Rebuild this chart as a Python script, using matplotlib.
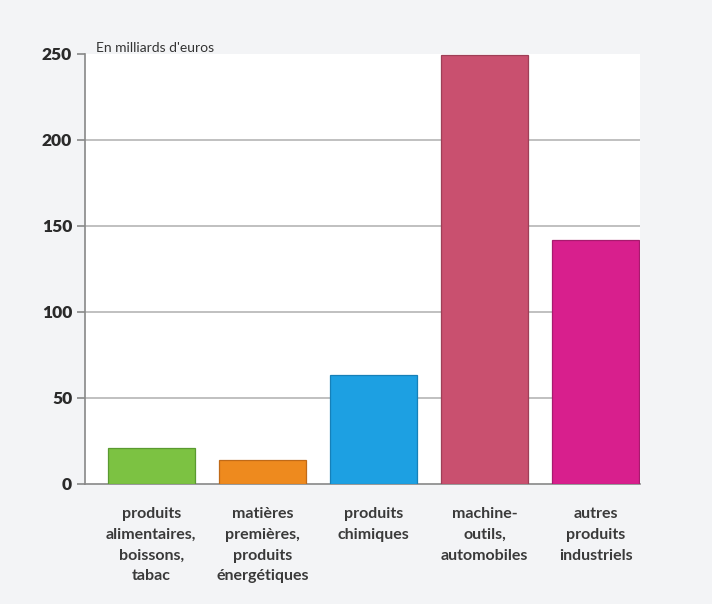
import matplotlib
matplotlib.use("Agg")
import matplotlib.pyplot as plt

# data
categories = ["produits\nalimentaires,\nboissons,\ntabac",
              "matières\npremières,\nproduits\nénergétiques",
              "produits\nchimiques",
              "machine-\noutils,\nautomobiles",
              "autres\nproduits\nindustriels"]
values = [21, 14, 63, 249, 142]
colors = ["#7cc242", "#ee8a1e", "#1da0e2", "#c9506f", "#d81f8d"]
edges = ["#5a9a30", "#c06a18", "#1680b8", "#9e3f57", "#a81a6e"]
yticks = [0, 50, 100, 150, 200, 250]

plt.rcParams['font.family'] = ['Lato', 'DejaVu Sans']

fig = plt.figure(figsize=(7.12, 6.04), dpi=100, facecolor="#f3f4f6")
ax = fig.add_axes([0.119, 0.199, 0.78, 0.712])
ax.set_facecolor("white")

x = list(range(len(values)))
ax.bar(x, values, width=0.78, color=colors, edgecolor=edges, linewidth=0.9, zorder=3)

ax.set_xlim(-0.6, 4.4)
ax.set_ylim(0, 250)
ax.set_yticks(yticks)
ax.set_yticklabels([str(t) for t in yticks], fontsize=12.5, fontweight="heavy", color="#2a2a2a")
for t in yticks[1:-1]:
    ax.axhline(t, color="#b5b5b5", linewidth=1.2, zorder=1)

ax.set_xticks(x)
ax.set_xticklabels(categories, fontsize=11.5, fontweight="bold", color="#3a3a3a",
                   linespacing=1.6, va="top")
ax.tick_params(axis="x", length=0, pad=17)
ax.tick_params(axis="y", length=6, color="#888888", width=1.2, pad=3)

for s in ["top", "right"]:
    ax.spines[s].set_visible(False)
ax.spines["left"].set_color("#888888")
ax.spines["left"].set_linewidth(1.2)
ax.spines["bottom"].set_color("#888888")
ax.spines["bottom"].set_linewidth(1.2)

ax.text(0.02, 1.0, "En milliards d'euros", transform=ax.transAxes, fontsize=10,
        color="#333333", va="bottom", ha="left")

fig.savefig("out.png", dpi=100, facecolor=fig.get_facecolor())
